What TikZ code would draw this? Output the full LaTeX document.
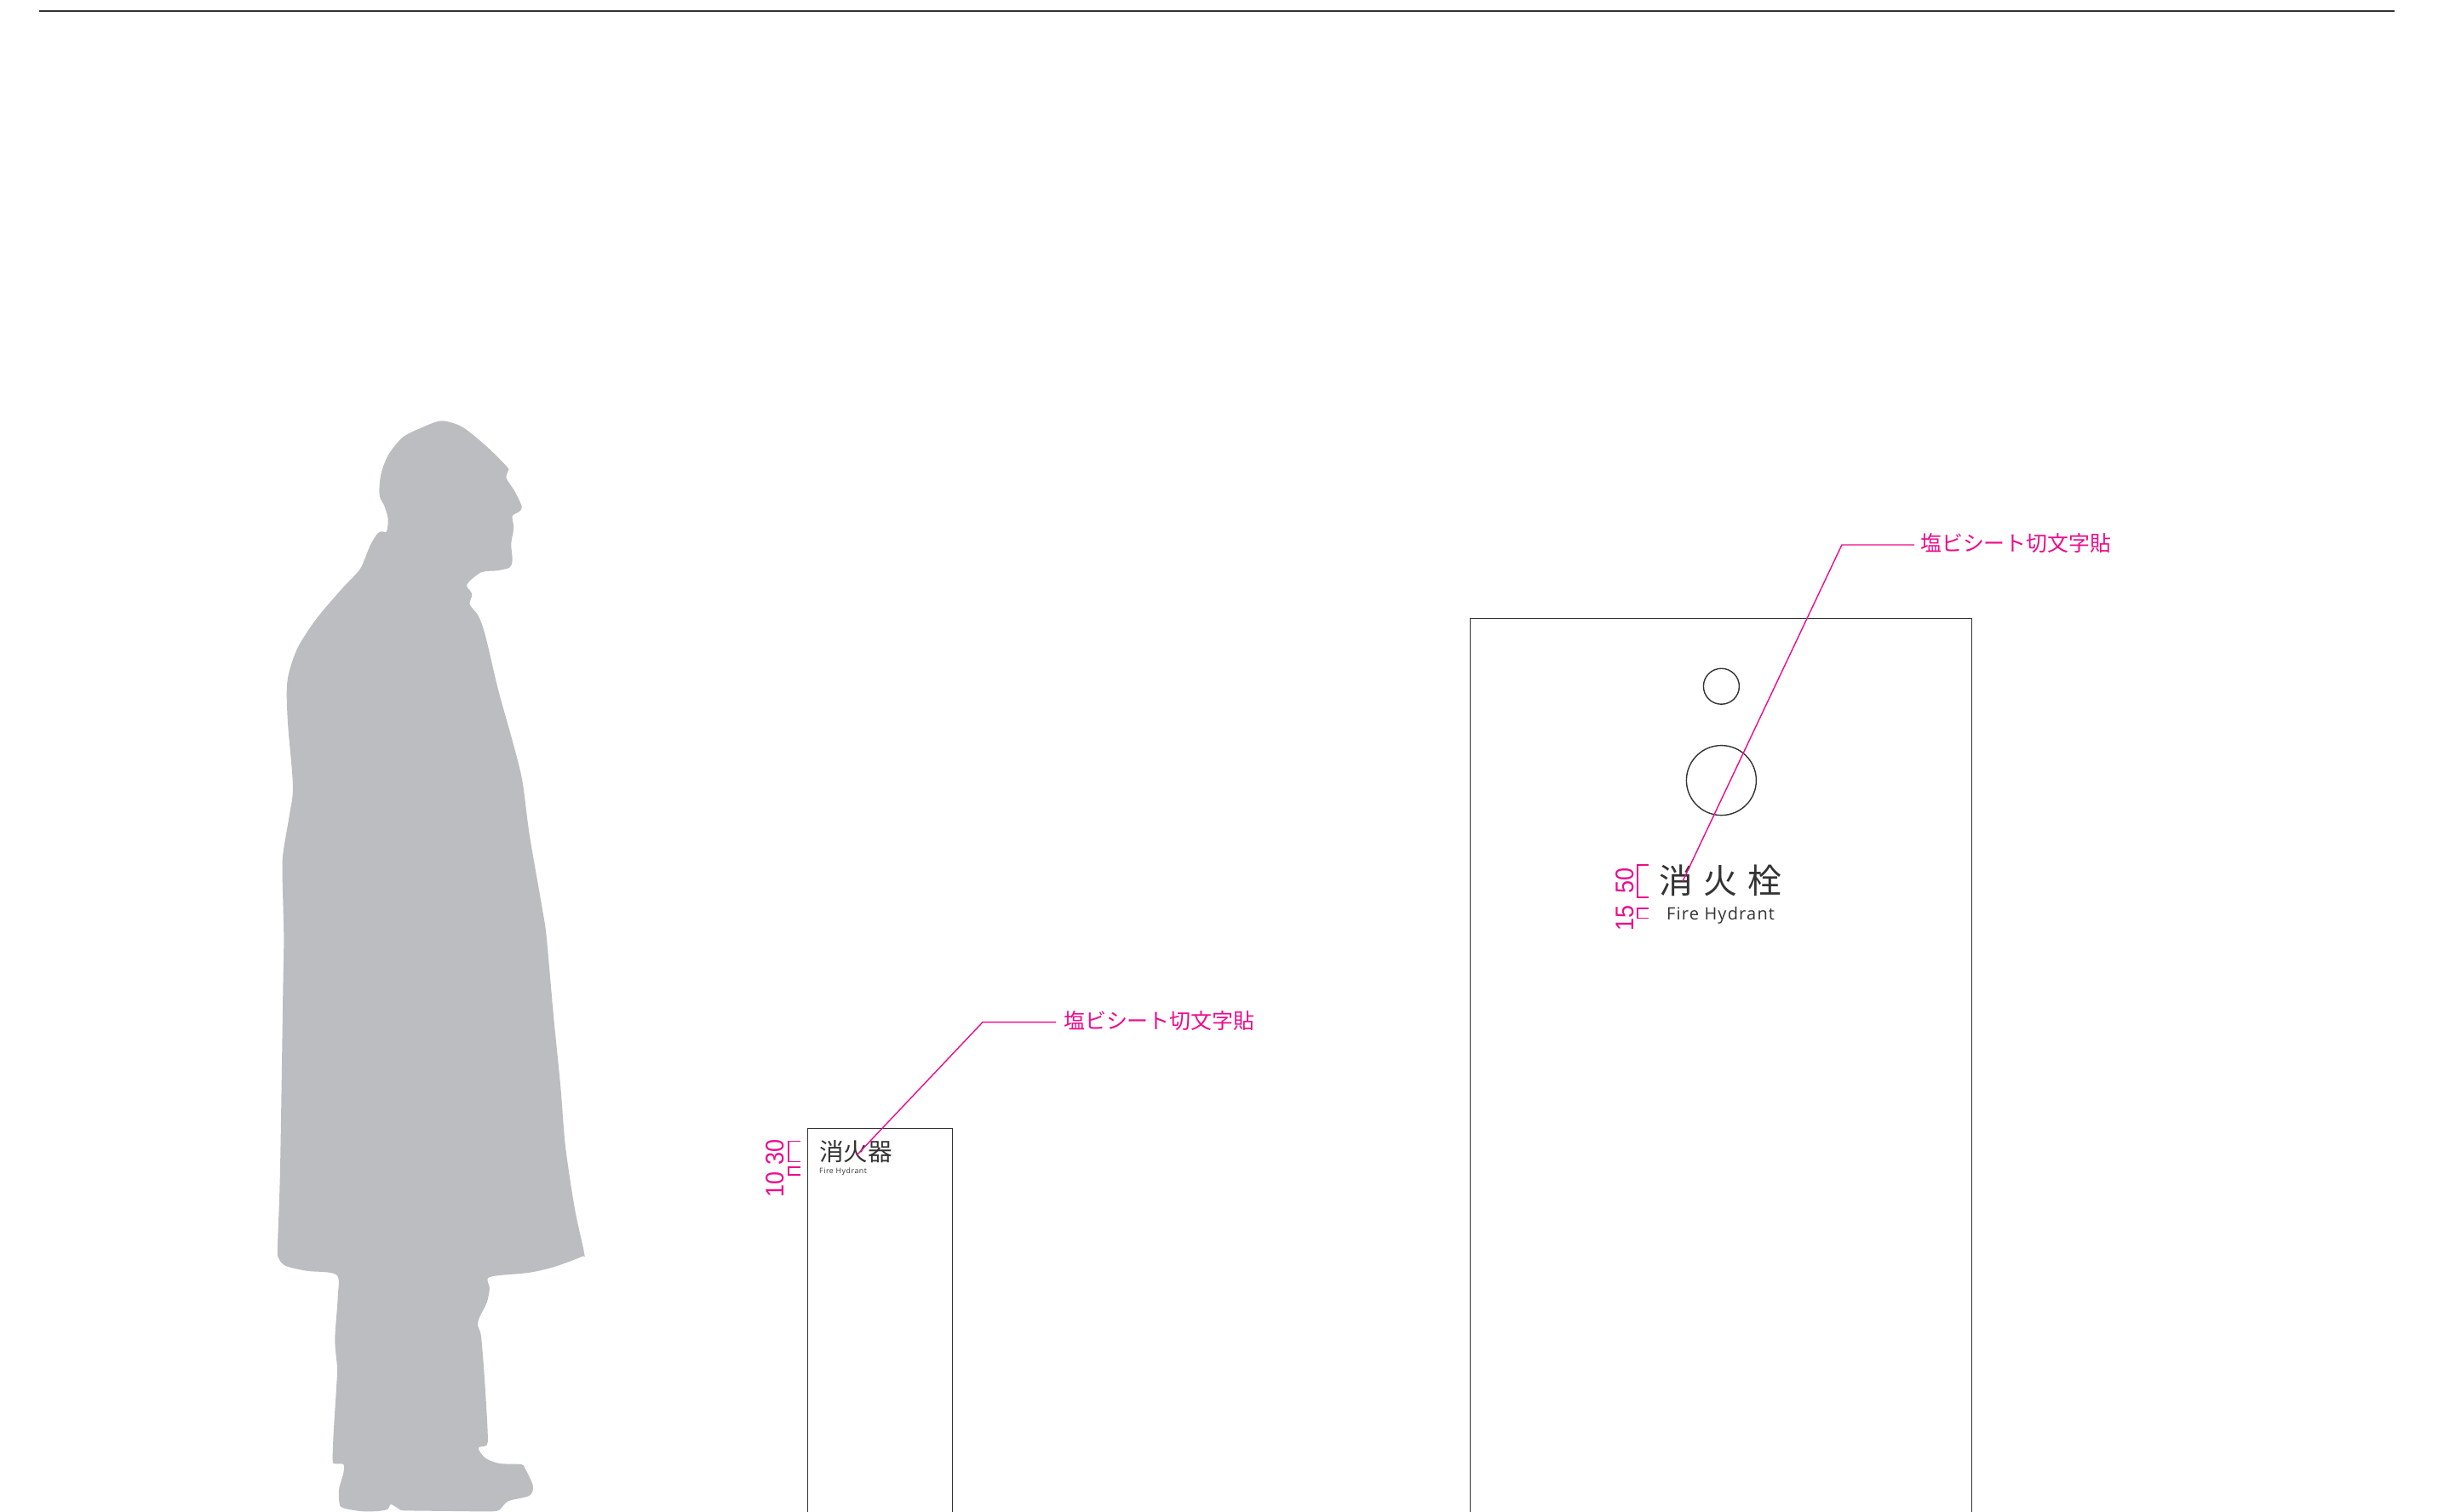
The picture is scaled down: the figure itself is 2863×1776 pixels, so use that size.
\documentclass[tikz,border=0pt]{standalone}
\usepackage{fontspec}
\setmainfont{Liberation Sans}
\newfontfamily\jpfont{Noto Sans CJK JP}
\newfontfamily\latinfont[LetterSpace=6]{Open Sans}
\newfontfamily\dimfont{Liberation Sans}
\definecolor{sil}{HTML}{BCBDC0}
\definecolor{ink}{HTML}{333333}
\definecolor{pink}{HTML}{EC0C8C}
\tikzset{
  outline/.style={draw=ink,line width=1.4pt},
  leader/.style={draw=pink,line width=1.4pt,line join=miter},
  calllabel/.style={text=pink,inner sep=0pt,font=\jpfont\fontsize{24.9}{28}\selectfont,anchor=west},
  dimlabel/.style={text=pink,inner sep=0pt,rotate=90,font=\dimfont\fontsize{30}{32}\selectfont},
  bracket/.style={draw=pink,line width=1.6pt},
  signbig/.style={text=ink,inner sep=0pt,font=\jpfont\fontsize{40}{42}\selectfont},
  signsmall/.style={text=ink,inner sep=0pt,font=\jpfont\fontsize{28.6}{30}\selectfont},
}
\begin{document}
\begin{tikzpicture}[x=1pt,y=-1pt]
\useasboundingbox (0,0) rectangle (2863,1776);
\fill[white] (0,0) rectangle (2863,1776);
% top rule
\draw[ink,line width=1.3pt] (46,13) -- (2812,13);
% silhouette
\fill[sil] plot[smooth cycle,tension=0.5] coordinates {
(518.3,494.3)(540,500)(556.7,511.7)(576.7,529.3)(596,549)(596.7,553)(594.7,561.7)(605,578)(612.7,595)(610,600.7)(601.7,606)
(603,616.7)(602.7,625)(601,633)(600.3,641.7)(601.7,658.3)(598.3,666.7)(583.3,670.3)(565,672.3)(548.3,686.7)
(554.3,697.7)(551.7,710)(561.7,723.3)(570,746.7)(585,810)(601.7,870)(613.3,916.7)(621.7,980)(636.7,1066.7)
(641.7,1100)(650,1193)(658.3,1276.7)(664,1346.7)(675,1420)(686,1471.7)(683.3,1476)(650,1488.3)(620,1495)(575,1500)
(575,1513.3)(571.7,1530)(563.3,1546.7)(561,1556.7)(565,1570)(569.3,1623.3)(572.7,1683.3)(571.7,1697.3)(561.7,1700.7)
(570,1712.7)(586.7,1719)(611.7,1720)(616.7,1725)(625.7,1745)(621.7,1756.7)(596.7,1763.3)(586.7,1773.3)(576.7,1775.3)
(533,1775)(476.7,1774.3)(470,1773.3)(459.3,1767)(455,1772.7)(443.3,1775)(423.3,1775)(401.7,1770.7)(398.3,1763.3)
(398.3,1748.3)(403.3,1730)(403.3,1720)(393.3,1719.3)(390.7,1715)(391.7,1683.3)(395,1630)(396,1606.7)(393.3,1573.3)
(396.7,1523.3)(395,1497.3)(360,1492.7)(335,1486.7)(326.7,1476.7)(326,1463.3)(329,1373)(332.3,1166.7)(333.3,1100)
(331.7,1033.3)(332.3,1003.3)(340,956.7)(344,923.3)(338.3,853.3)(336.7,813.3)(339.3,790)(350,760)(371.7,726.7)
(400,693.3)(421.7,670)(428.3,656.7)(435,640)(443.3,626.7)(448.3,624.3)(454,624.3)(455.7,610)(451.7,595)(446,583.3)
(445.7,570)(448.3,553.3)(456.7,533.3)(473.3,513.3)(496.7,501.7)};
% small sign panel
\draw[outline] (948.6,1776) -- (948.6,1325.6) -- (1118.5,1325.6) -- (1118.5,1776);
% large sign panel
\draw[outline] (1726.5,1776) -- (1726.5,726.7) -- (2315.4,726.7) -- (2315.4,1776);
\node[circle,draw=ink,line width=1.4pt,minimum size=42pt,inner sep=0pt] (c1) at (2021.4,806.2) {};
\node[circle,draw=ink,line width=1.4pt,minimum size=82pt,inner sep=0pt] (c2) at (2021.4,916.6) {};
% sign text, large
\node[signbig] (b1) at (1968.6,1034.5) {消};
\node[signbig] (b2) at (2020.6,1034.5) {火};
\node[signbig] (b3) at (2072.5,1034.5) {栓};
\node[text=ink,inner sep=0pt,font=\latinfont\fontsize{20}{22}\selectfont] (bf) at (2020.6,1075.5) {Fire Hydrant};
% sign text, small
\node[signsmall] (s1) at (976.5,1353) {消};
\node[signsmall] (s2) at (1005.2,1353) {火};
\node[signsmall] (s3) at (1033.8,1353) {器};
\node[text=ink,inner sep=0pt,anchor=west,font=\latinfont\fontsize{8.8}{10}\selectfont] (sf) at (962,1376) {Fire Hydrant};
% callouts
\node[calllabel] (la) at (1249,1199) {塩ビシート切文字貼};
\node[calllabel] (lb) at (2255,638.5) {塩ビシート切文字貼};
\coordinate (ta) at (1006,1357);
\coordinate (ea) at (1154,1200.6);
\coordinate (tb) at (1976,1035);
\coordinate (eb) at (2162.9,640);
\draw[leader] (ta) -- (ea) -- ([xshift=-9pt]la.west |- ea);
\draw[leader] (tb) -- (eb) -- ([xshift=-7pt]lb.west |- eb);
% dimensions, large
\draw[bracket] (1935.5,1015.7) -- (1923,1015.7) -- (1923,1053.7) -- (1935.5,1053.7);
\draw[bracket] (1935.5,1066.7) -- (1923,1066.7) -- (1923,1078.3) -- (1935.5,1078.3);
\node[dimlabel,xscale=0.9] (d50) at (1908,1034) {50};
\node[dimlabel,xscale=0.9] (d15) at (1908,1078) {15};
% dimensions, small
\draw[bracket] (940,1340.3) -- (926,1340.3) -- (926,1364.3) -- (940,1364.3);
\draw[bracket] (940,1370.7) -- (926,1370.7) -- (926,1380) -- (940,1380);
\node[dimlabel,xscale=0.9] (d30) at (910,1353) {30};
\node[dimlabel,xscale=0.9] (d10) at (910,1391) {10};
\end{tikzpicture}
\end{document}
